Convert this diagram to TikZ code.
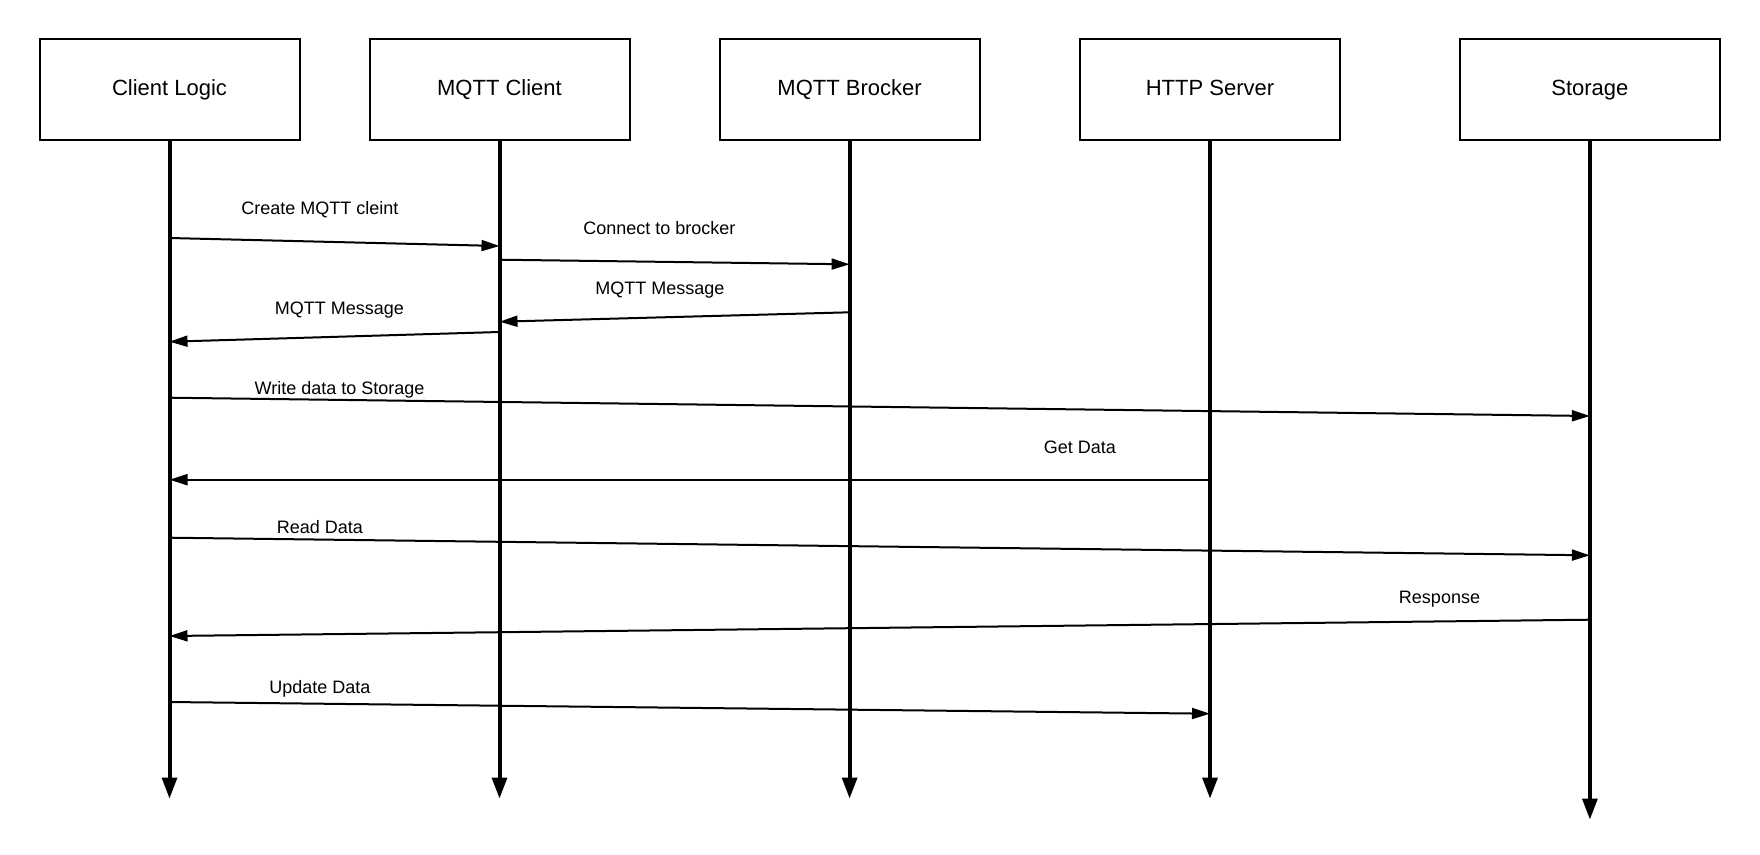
\documentclass[tikz,border=0pt]{standalone}
\usepackage{fontspec}
\setmainfont{Liberation Sans}
\usetikzlibrary{arrows.meta}
\begin{document}
\begin{tikzpicture}[x=1pt,y=1pt,
  actor/.style={draw, line width=2pt, minimum width=260pt, minimum height=100.7pt, inner sep=0pt,
    font=\fontsize{22}{26}\selectfont, text height=16pt, text depth=5.4pt},
  life/.style={line width=4pt, -{Triangle[length=21pt,width=14.6pt]}},
  msg/.style={line width=2pt, -{Triangle[length=18pt,width=11pt]}},
  lbl/.style={font=\fontsize{18}{21}\selectfont, anchor=base, inner sep=0pt}]
\useasboundingbox (0,0) rectangle (1760,-854);
% actors
\node[actor] (cl) at (169.5,-89.7) {Client Logic};
\node[actor] (mc) at (499.5,-89.7) {MQTT Client};
\node[actor] (mb) at (849.6,-89.7) {MQTT Brocker};
\node[actor] (hs) at (1210,-89.7) {HTTP Server};
\node[actor] (st) at (1589.9,-89.7) {Storage};
% lifeline ends
\coordinate (clE) at (169.5,-798.7);
\coordinate (mcE) at (499.5,-798.7);
\coordinate (mbE) at (849.6,-798.7);
\coordinate (hsE) at (1210,-798.7);
\coordinate (stE) at (1589.9,-819.7);
\draw[life] (cl.south) -- (clE);
\draw[life] (mc.south) -- (mcE);
\draw[life] (mb.south) -- (mbE);
\draw[life] (hs.south) -- (hsE);
\draw[life] (st.south) -- (stE);
% message end points
\coordinate (a1) at (169.5,-238);   \coordinate (b1) at (499.5,-246);
\coordinate (a2) at (499.5,-259.7); \coordinate (b2) at (849.6,-264.3);
\coordinate (a3) at (849.6,-312.3); \coordinate (b3) at (499.5,-321.7);
\coordinate (a4) at (499.5,-332);   \coordinate (b4) at (169.5,-341.7);
\coordinate (a5) at (169.5,-397.7); \coordinate (b5) at (1589.9,-416);
\coordinate (a6) at (1210,-479.7);  \coordinate (b6) at (169.5,-479.7);
\coordinate (a7) at (169.5,-537.7); \coordinate (b7) at (1589.9,-555.3);
\coordinate (a8) at (1589.9,-619.7);\coordinate (b8) at (169.5,-636);
\coordinate (a9) at (169.5,-702);   \coordinate (b9) at (1210,-713.7);
\foreach \i in {1,...,9} {\draw[msg] (a\i) -- (b\i);}
% labels
\node[lbl] (l1) at (320,-214.3) {Create MQTT cleint};
\node[lbl] (l2) at (659.4,-234.3) {Connect to brocker};
\node[lbl] (l3) at (660,-294) {MQTT Message};
\node[lbl] (l4) at (339.5,-314) {MQTT Message};
\node[lbl] (l5) at (339.5,-394) {Write data to Storage};
\node[lbl] (l6) at (1079.8,-453.7) {Get Data};
\node[lbl] (l7) at (319.9,-533.7) {Read Data};
\node[lbl] (l8) at (1439.5,-603.7) {Response};
\node[lbl] (l9) at (319.9,-693.7) {Update Data};
\end{tikzpicture}
\end{document}
